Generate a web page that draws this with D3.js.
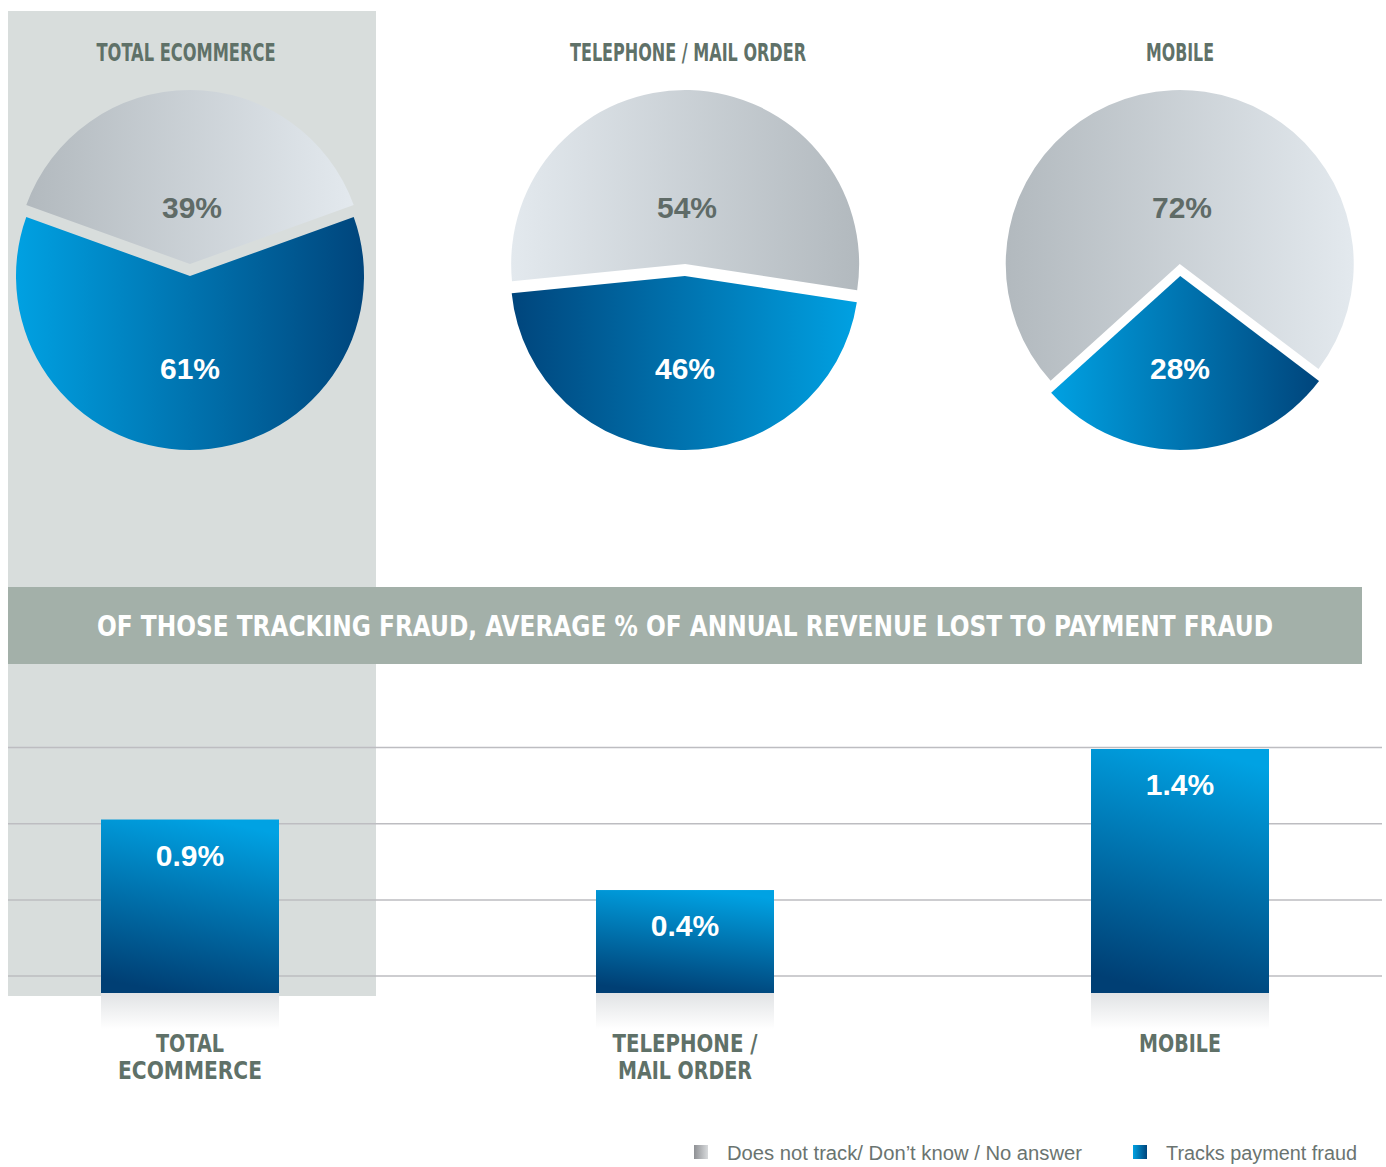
<!DOCTYPE html>
<html>
<head>
<meta charset="utf-8">
<script src="https://cdn.jsdelivr.net/npm/d3@7"></script>
<style>
  html, body { margin: 0; padding: 0; background: #ffffff; }
  svg { display: block; }
</style>
</head>
<body>
<div id="chart"></div>
<script>
// ---- data ----
const categories = ["TOTAL ECOMMERCE", "TELEPHONE / MAIL ORDER", "MOBILE"];
const categoryLines = [["TOTAL", "ECOMMERCE"], ["TELEPHONE /", "MAIL ORDER"], ["MOBILE"]];
const notTracking = [39, 54, 72];   // % does not track / don't know / no answer
const tracking = [61, 46, 28];      // % tracks payment fraud
const revenueLost = [0.9, 0.4, 1.4]; // avg % of annual revenue lost
const legendLabels = ["Does not track/ Don\u2019t know / No answer", "Tracks payment fraud"];
const bannerText = "OF THOSE TRACKING FRAUD, AVERAGE % OF ANNUAL REVENUE LOST TO PAYMENT FRAUD";
const gridValues = [1.41, 0.87, 0.33, -0.21];

// ---- layout ----
const W = 1386, H = 1167;
const condensed = "'Liberation Sans Narrow', 'DejaVu Sans Condensed', 'Arial Narrow', sans-serif";
const sans = "'Liberation Sans', Arial, Helvetica, sans-serif";
const titleColor = "#5f7168";
const grayText = "#5f6b67";
// rendered widths / nudges for the condensed headings
const titleWidths = [179, 236, 68];
const titleShift = [-4, 3, 0];
const lineWidths = [[68, 144], [145, 134], [82]];
const legendWidths = [355, 191];

const svg = d3.select("#chart").append("svg")
  .attr("width", W).attr("height", H);
const defs = svg.append("defs");

function grad(id, c0, c1, x1 = "0%", y1 = "0%", x2 = "100%", y2 = "0%") {
  const g = defs.append("linearGradient").attr("id", id)
    .attr("x1", x1).attr("y1", y1).attr("x2", x2).attr("y2", y2);
  g.append("stop").attr("offset", "0%").attr("stop-color", c0);
  g.append("stop").attr("offset", "100%").attr("stop-color", c1);
}
const GRAY_D = "#b2b9be", GRAY_L = "#e3e9ee", BLUE_L = "#00a1e2", BLUE_D = "#00457c";
grad("grayLR", GRAY_D, GRAY_L);
grad("grayRL", GRAY_L, GRAY_D);
grad("blueLR", BLUE_L, BLUE_D);
grad("blueRL", BLUE_D, BLUE_L);
grad("barGrad", "#00a2e3", "#003f74", "60%", "0%", "40%", "100%");
grad("reflect", "#e1e3e5", "#ffffff", "0%", "0%", "0%", "100%");
grad("swGray", "#8e9094", "#d8dadc");
grad("swBlue", "#00a1e2", "#00457c");

// Shared horizontal position for each category column
const x = d3.scalePoint().domain(categories).range([190, 1180]);

// Highlight panel behind the first column
svg.append("rect").attr("x", 8).attr("y", 11).attr("width", 368).attr("height", 985)
  .attr("fill", "#d8dddc");

function fit(sel, w) {
  return sel.attr("textLength", w).attr("lengthAdjust", "spacingAndGlyphs");
}

// ---- pies ----
const R = 174, cy = 270, explode = 6;
const pieRot = [0, 1.5, -2.5];            // degrees, clockwise
const pieFlip = [false, true, false];     // gradient direction
const arc = d3.arc().innerRadius(0).outerRadius(R);

categories.forEach((cat, i) => {
  const vals = [notTracking[i], tracking[i]];
  const grayAngle = vals[0] / 100 * 2 * Math.PI;
  const start = -grayAngle / 2 + pieRot[i] * Math.PI / 180;
  const pie = d3.pie().sort(null).startAngle(start).endAngle(start + 2 * Math.PI);
  const arcs = pie(vals);
  const g = svg.append("g").attr("transform", `translate(${x(cat)},${cy})`);

  g.selectAll("path").data(arcs).join("path")
    .attr("d", arc)
    .attr("transform", d => {
      const a = (d.startAngle + d.endAngle) / 2;
      return `translate(${Math.sin(a) * explode},${-Math.cos(a) * explode})`;
    })
    .attr("fill", (d, j) => {
      const base = j === 0 ? "gray" : "blue";
      return `url(#${base}${pieFlip[i] ? "RL" : "LR"})`;
    });

  // value labels
  g.append("text").attr("x", 2).attr("y", -52)
    .attr("text-anchor", "middle").attr("font-family", sans).attr("font-weight", "bold")
    .attr("font-size", 30).attr("fill", grayText).text(vals[0] + "%");
  g.append("text").attr("x", 0).attr("y", 109)
    .attr("text-anchor", "middle").attr("font-family", sans).attr("font-weight", "bold")
    .attr("font-size", 30).attr("fill", "#ffffff").text(vals[1] + "%");

  // column title
  fit(svg.append("text")
    .attr("x", x(cat) + titleShift[i]).attr("y", 61).attr("text-anchor", "middle")
    .attr("font-family", condensed).attr("font-weight", "bold").attr("font-size", 25)
    .attr("fill", titleColor).text(cat), titleWidths[i]);
});

// ---- banner ----
svg.append("rect").attr("x", 8).attr("y", 587).attr("width", 1354).attr("height", 77)
  .attr("fill", "#a3b0a9");
fit(svg.append("text")
  .attr("x", 685).attr("y", 636).attr("text-anchor", "middle")
  .attr("font-family", condensed).attr("font-weight", "bold").attr("font-size", 29)
  .attr("fill", "#ffffff").text(bannerText), 1176);

// ---- bars ----
const barW = 178;
const y = d3.scaleLinear().domain([-0.33, 1.4]).range([993, 749]);

svg.append("g").selectAll("line").data(gridValues).join("line")
  .attr("x1", 8).attr("x2", 1382)
  .attr("y1", d => y(d)).attr("y2", d => y(d))
  .attr("stroke", "#bdbdc1").attr("stroke-width", 1.5);

const bars = svg.append("g");
bars.selectAll("rect.reflect").data(categories).join("rect").attr("class", "reflect")
  .attr("x", d => x(d) - barW / 2).attr("width", barW)
  .attr("y", y.range()[0]).attr("height", 36)
  .attr("fill", "url(#reflect)");
bars.selectAll("rect.bar").data(categories).join("rect").attr("class", "bar")
  .attr("x", d => x(d) - barW / 2).attr("width", barW)
  .attr("y", (d, i) => y(revenueLost[i]))
  .attr("height", (d, i) => y.range()[0] - y(revenueLost[i]))
  .attr("fill", "url(#barGrad)");
bars.selectAll("text.val").data(categories).join("text").attr("class", "val")
  .attr("x", d => x(d)).attr("y", (d, i) => y(revenueLost[i]) + 46)
  .attr("text-anchor", "middle").attr("font-family", sans).attr("font-weight", "bold")
  .attr("font-size", 30).attr("fill", "#ffffff")
  .text((d, i) => revenueLost[i].toFixed(1) + "%");

// category labels under bars
categories.forEach((cat, i) => {
  categoryLines[i].forEach((line, k) => {
    fit(svg.append("text")
      .attr("x", x(cat)).attr("y", 1052 + k * 27).attr("text-anchor", "middle")
      .attr("font-family", condensed).attr("font-weight", "bold").attr("font-size", 25)
      .attr("fill", titleColor).text(line), lineWidths[i][k]);
  });
});

// ---- legend ----
const legend = svg.append("g");
const legendX = [694, 1133];
legendLabels.forEach((lab, i) => {
  legend.append("rect").attr("x", legendX[i]).attr("y", 1145).attr("width", 14).attr("height", 14)
    .attr("fill", i === 0 ? "url(#swGray)" : "url(#swBlue)");
  fit(legend.append("text").attr("x", legendX[i] + 33).attr("y", 1160)
    .attr("font-family", sans).attr("font-size", 20).attr("fill", "#6a7470")
    .text(lab), legendWidths[i]);
});
</script>
</body>
</html>
